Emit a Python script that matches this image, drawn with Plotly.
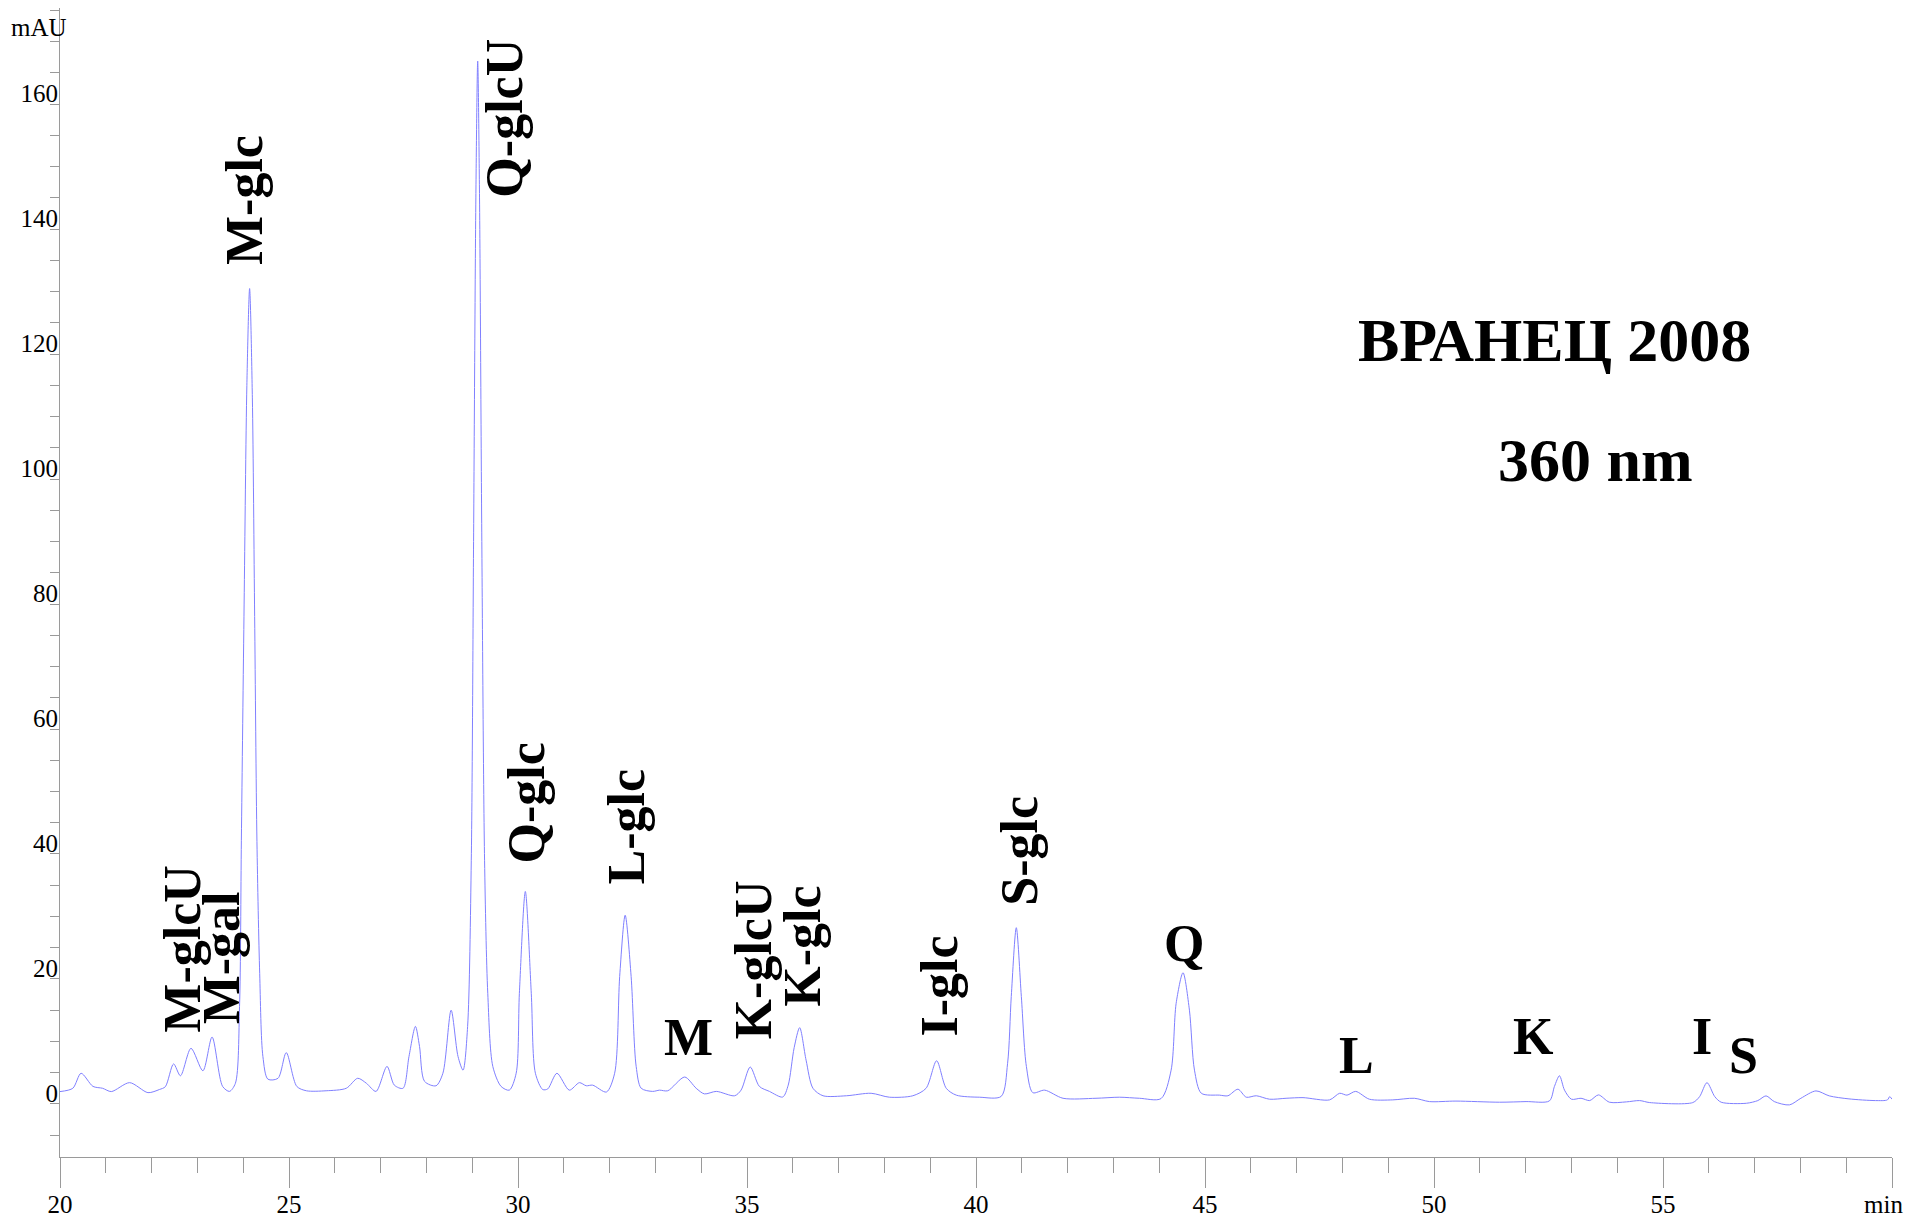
import plotly.graph_objects as go

# ---- data (time in min, absorbance in mAU) ----
time_min = [
    20.00, 20.28, 20.46, 20.72, 20.93, 21.12, 21.52, 21.92, 22.17, 22.30,
    22.48, 22.63, 22.86, 23.12, 23.32, 23.55, 23.70, 23.83, 23.92, 23.96,
    24.02, 24.08, 24.14, 24.20, 24.25, 24.30, 24.36, 24.43, 24.54, 24.76,
    24.94, 25.17, 25.38, 25.81, 26.25, 26.50, 26.69, 26.90, 27.14, 27.30,
    27.49, 27.62, 27.76, 27.85, 27.96, 28.21, 28.36, 28.54, 28.69, 28.80,
    28.90, 28.98, 29.03, 29.08, 29.12, 29.16, 29.21, 29.27, 29.34, 29.45,
    29.63, 29.81, 29.96, 30.03, 30.16, 30.29, 30.38, 30.54, 30.65, 30.85,
    31.12, 31.34, 31.49, 31.63, 31.93, 32.11, 32.22, 32.34, 32.47, 32.58,
    32.69, 32.94, 33.09, 33.27, 33.64, 33.89, 34.07, 34.33, 34.73, 34.87,
    35.07, 35.27, 35.49, 35.78, 35.90, 36.03, 36.15, 36.29, 36.44, 36.66,
    37.17, 37.71, 38.11, 38.62, 38.91, 39.14, 39.35, 39.57, 40.08, 40.55,
    40.69, 40.77, 40.88, 40.99, 41.10, 41.24, 41.50, 41.90, 42.62, 43.13,
    43.57, 44.04, 44.26, 44.37, 44.52, 44.66, 44.77, 44.92, 45.32, 45.50,
    45.72, 45.90, 46.12, 46.41, 46.77, 47.14, 47.72, 47.94, 48.10, 48.29,
    48.59, 49.10, 49.57, 49.90, 50.48, 51.43, 52.01, 52.52, 52.63, 52.74,
    52.85, 53.00, 53.21, 53.40, 53.59, 53.83, 54.20, 54.49, 54.71, 55.65,
    55.80, 55.96, 56.13, 56.27, 56.82, 57.07, 57.25, 57.43, 57.76, 58.01,
    58.34, 58.63, 59.06, 59.64, 59.90, 59.95, 60.00,
]
absorbance_mau = [
    1.97, 2.5, 4.9, 2.8, 2.5, 1.97, 3.4, 1.8, 2.3, 2.75,
    6.4, 4.5, 8.9, 5.3, 10.7, 2.8, 2.0, 3.3, 15.6, 42.2,
    80.0, 115.0, 130.5, 113.0, 78.0, 42.0, 20.9, 7.6, 3.95, 4.1,
    8.2, 2.8, 2.1, 2.1, 2.5, 4.1, 3.3, 2.0, 6.0, 3.0,
    2.5, 7.6, 12.4, 9.2, 3.6, 2.9, 4.9, 15.0, 7.6, 5.4,
    12.4, 39.0, 90.0, 145.0, 166.9, 145.0, 90.0, 39.0, 17.7, 6.0,
    2.8, 2.2, 4.9, 17.7, 34.0, 17.7, 4.9, 2.3, 2.4, 4.9,
    2.2, 3.4, 2.9, 3.0, 1.9, 4.9, 20.4, 30.2, 20.4, 6.0,
    2.5, 2.0, 2.2, 2.1, 4.3, 2.5, 1.6, 2.0, 1.3, 2.2,
    5.9, 2.8, 2.0, 1.1, 3.0, 9.0, 12.2, 7.0, 2.5, 1.3,
    1.3, 1.7, 1.07, 1.3, 2.5, 6.9, 2.5, 1.4, 1.07, 1.2,
    6.5, 17.2, 28.2, 17.2, 6.0, 1.8, 2.2, 0.9, 0.9, 1.07,
    0.9, 0.85, 5.4, 16.1, 21.0, 15.0, 5.4, 1.7, 1.4, 1.3,
    2.35, 1.07, 1.3, 0.75, 0.9, 1.0, 0.64, 1.7, 1.4, 2.0,
    0.75, 0.64, 0.9, 0.37, 0.45, 0.27, 0.37, 0.48, 2.8, 4.5,
    2.2, 0.75, 0.9, 0.53, 1.44, 0.27, 0.32, 0.53, 0.21, 0.21,
    1.17, 3.4, 1.17, 0.27, 0.1, 0.53, 1.28, 0.37, -0.16, 0.9,
    2.08, 1.28, 0.8, 0.53, 0.64, 1.17, 0.75,
]

# peak labels: text, retention time (min), label centre height (mAU), rotated?
peak_names = ["M-glcU", "M-gal", "M-glc", "Q-glcU", "Q-glc", "L-glc", "M",
              "K-glcU", "K-glc", "I-glc", "S-glc", "Q", "L", "K", "I", "S"]
peak_label_t = [22.81, 23.66, 24.16, 29.84, 30.32, 32.49, 33.72,
                35.28, 36.34, 39.34, 41.08, 44.55, 48.31, 52.17, 55.86, 56.75]
peak_label_y = [24.8, 23.4, 144.6, 157.8, 48.2, 44.4, 10.7,
                23.1, 25.2, 18.9, 40.6, 25.6, 7.8, 10.8, 10.8, 7.7]
peak_rotated = [True, True, True, True, True, True, False,
                True, True, True, True, False, False, False, False, False]

x_tick_vals = [20, 25, 30, 35, 40, 45, 50, 55, 60]
x_tick_text = ["20", "25", "30", "35", "40", "45", "50", "55", ""]
y_tick_vals = [0, 20, 40, 60, 80, 100, 120, 140, 160]
y_tick_text = ["0", "20", "40", "60", "80", "100", "120", "140", "160"]

title_text = "ВРАНЕЦ 2008"
subtitle_text = "360 nm"

SERIF = "Liberation Serif, Times New Roman, serif"
AXIS_GREY = "#9a9a9a"

fig = go.Figure()
fig.add_trace(go.Scatter(
    x=time_min, y=absorbance_mau, mode="lines",
    line=dict(color="#8080ff", width=1, shape="spline", smoothing=0.8),
    hoverinfo="x+y", showlegend=False,
))

annotations = []
for name, t, yv, rot in zip(peak_names, peak_label_t, peak_label_y, peak_rotated):
    annotations.append(dict(
        x=t, y=yv, xref="x", yref="y", text=name, showarrow=False,
        textangle=-90 if rot else 0, xanchor="center", yanchor="middle",
        xshift=-6 if rot else 0,
        font=dict(family=SERIF, size=52, color="black", weight="bold"),
    ))
annotations.append(dict(
    x=52.63, y=122.2, xref="x", yref="y", text=title_text, showarrow=False,
    xanchor="center", yanchor="middle",
    font=dict(family=SERIF, size=62, color="black", weight="bold"),
))
annotations.append(dict(
    x=53.53, y=103.0, xref="x", yref="y", text=subtitle_text, showarrow=False,
    xanchor="center", yanchor="middle",
    font=dict(family=SERIF, size=62, color="black", weight="bold"),
))
annotations.append(dict(
    x=0, y=1, xref="paper", yref="paper", text="mAU", showarrow=False,
    xanchor="right", yanchor="top", xshift=9, yshift=-4,
    font=dict(family=SERIF, size=25, color="black"),
))
annotations.append(dict(
    x=1, y=0, xref="paper", yref="paper", text="min", showarrow=False,
    xanchor="right", yanchor="top", xshift=13, yshift=-32,
    font=dict(family=SERIF, size=25, color="black"),
))

fig.update_layout(
    width=1910, height=1218,
    margin=dict(l=60, r=18, t=8, b=61, pad=0),
    paper_bgcolor="white", plot_bgcolor="white",
    annotations=annotations,
    xaxis=dict(
        range=[20, 60], tickmode="array", tickvals=x_tick_vals, ticktext=x_tick_text,
        automargin=False,
        showline=True, linecolor=AXIS_GREY, linewidth=1,
        ticks="outside", ticklen=30, tickcolor=AXIS_GREY, tickwidth=1,
        minor=dict(tickmode="linear", tick0=20, dtick=1, ticks="outside",
                   ticklen=15, tickcolor=AXIS_GREY, tickwidth=1, showgrid=False),
        showgrid=False, zeroline=False,
        ticklabelstandoff=-5,
        tickfont=dict(family=SERIF, size=25, color="black"),
    ),
    yaxis=dict(
        range=[-8.5, 175.4], tickmode="array", tickvals=y_tick_vals, ticktext=y_tick_text,
        automargin=False,
        showline=True, linecolor=AXIS_GREY, linewidth=1,
        ticks="outside", ticklen=9, tickcolor=AXIS_GREY, tickwidth=1,
        minor=dict(tickmode="linear", tick0=0, dtick=5, ticks="outside",
                   ticklen=9, tickcolor=AXIS_GREY, tickwidth=1, showgrid=False),
        showgrid=False, zeroline=False,
        ticklabelshift=-11, ticklabelstandoff=-13,
        tickfont=dict(family=SERIF, size=25, color="black"),
    ),
)

fig.write_html("out.html", config={"displayModeBar": False},
               post_script="document.body.style.margin='0';")
